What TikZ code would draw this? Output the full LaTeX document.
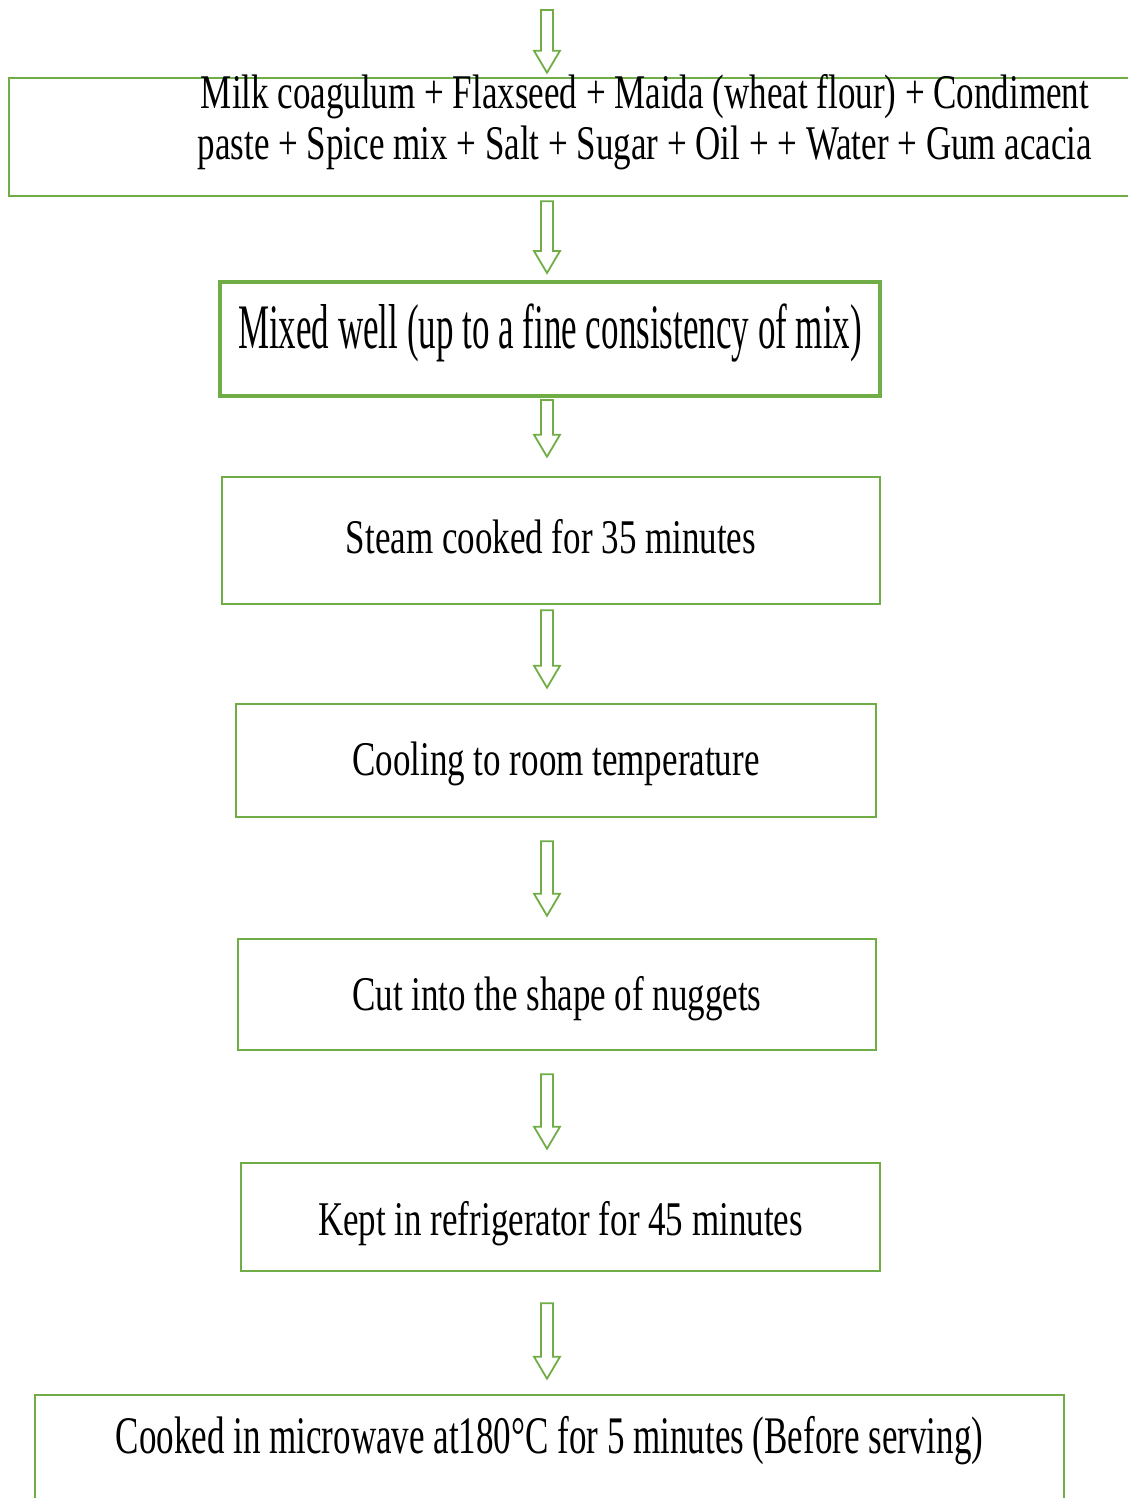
\documentclass[tikz,border=0pt]{standalone}
\usepackage{fontspec}
\usepackage{xcolor}
\usepackage{tikz}
\usetikzlibrary{calc}
\newfontfamily\stepfont[FakeStretch=0.723]{Liberation Serif}
\newfontfamily\mixfont[FakeStretch=0.552]{Liberation Serif}
\newfontfamily\lastfont[FakeStretch=0.663]{Liberation Serif}
\definecolor{stepgreen}{RGB}{112, 173, 71}

\begin{document}
\begin{tikzpicture}[
    x=0.5pt, y=0.5pt,
    stepbox/.style={draw=stepgreen, line width=1.3pt, inner sep=0pt, anchor=base, align=center,
        font=\stepfont\fontsize{24.2pt}{25.5pt}\selectfont},
    flowarrow/.style={draw=stepgreen, line width=0.9pt, line join=miter,
        to path={let \p1=(\tikztostart), \p2=(\tikztotarget) in
            (\x1-3pt,\y1) -- (\x1+3pt,\y1) -- (\x1+3pt,\y2+11pt) -- (\x1+6.5pt,\y2+11pt)
            -- (\x1,\y2) -- (\x1-6.5pt,\y2+11pt) -- (\x1-3pt,\y2+11pt) -- cycle}}
]
\useasboundingbox (0,0) rectangle (1128,-1498);
\clip (0,0) rectangle (1128,-1498);

% process steps
\node[stepbox, align=none, text width=460pt, minimum width=636pt, text height=15.5pt, text depth=43.5pt] (ingr) at (645,-109)
    {\centering Milk coagulum + Flaxseed + Maida (wheat flour) + Condiment\\
     paste + Spice mix + Salt + Sugar + Oil + + Water + Gum acacia\par};
\node[stepbox, line width=2pt, minimum width=330pt, text height=33pt, text depth=24pt,
    font=\mixfont\fontsize{31.7pt}{34pt}\selectfont] (mix) at (550,-348)
    {Mixed well (up to a fine consistency of mix)};
\node[stepbox, minimum width=329pt, text height=38pt, text depth=25.5pt] (steam) at (551,-553)
    {Steam cooked for 35 minutes};
\node[stepbox, minimum width=320pt, text height=35.5pt, text depth=21pt] (cool) at (556,-775)
    {Cooling to room temperature};
\node[stepbox, minimum width=319pt, text height=35.5pt, text depth=20pt] (cut) at (557,-1010)
    {Cut into the shape of nuggets};
\node[stepbox, minimum width=319.5pt, text height=36pt, text depth=18pt] (fridge) at (560.5,-1235)
    {Kept in refrigerator for 45 minutes};
\node[stepbox, minimum width=514.5pt, text height=29pt, text depth=33.5pt,
    font=\lastfont\fontsize{26.4pt}{28pt}\selectfont] (micro) at (549.5,-1453)
    {Cooked in microwave at180°C for 5 minutes (Before serving)};

% arrows
\coordinate (top) at (547,-10);
\draw[flowarrow] (top) to ($(ingr.north -| top)+(0,2pt)$);
\draw[flowarrow] ($(ingr.south -| top)+(0,-2pt)$) to ($(mix.north -| top)+(0,3.5pt)$);
\draw[flowarrow] ($(mix.south -| top)+(0,-1pt)$) to ($(steam.north -| top)+(0,9.5pt)$);
\draw[flowarrow] ($(steam.south -| top)+(0,-2.5pt)$) to ($(cool.north -| top)+(0,7.5pt)$);
\draw[flowarrow] ($(cool.south -| top)+(0,-11.5pt)$) to ($(cut.north -| top)+(0,11pt)$);
\draw[flowarrow] ($(cut.south -| top)+(0,-11.5pt)$) to ($(fridge.north -| top)+(0,6.5pt)$);
\draw[flowarrow] ($(fridge.south -| top)+(0,-15.5pt)$) to ($(micro.north -| top)+(0,7.5pt)$);
\end{tikzpicture}
\end{document}
